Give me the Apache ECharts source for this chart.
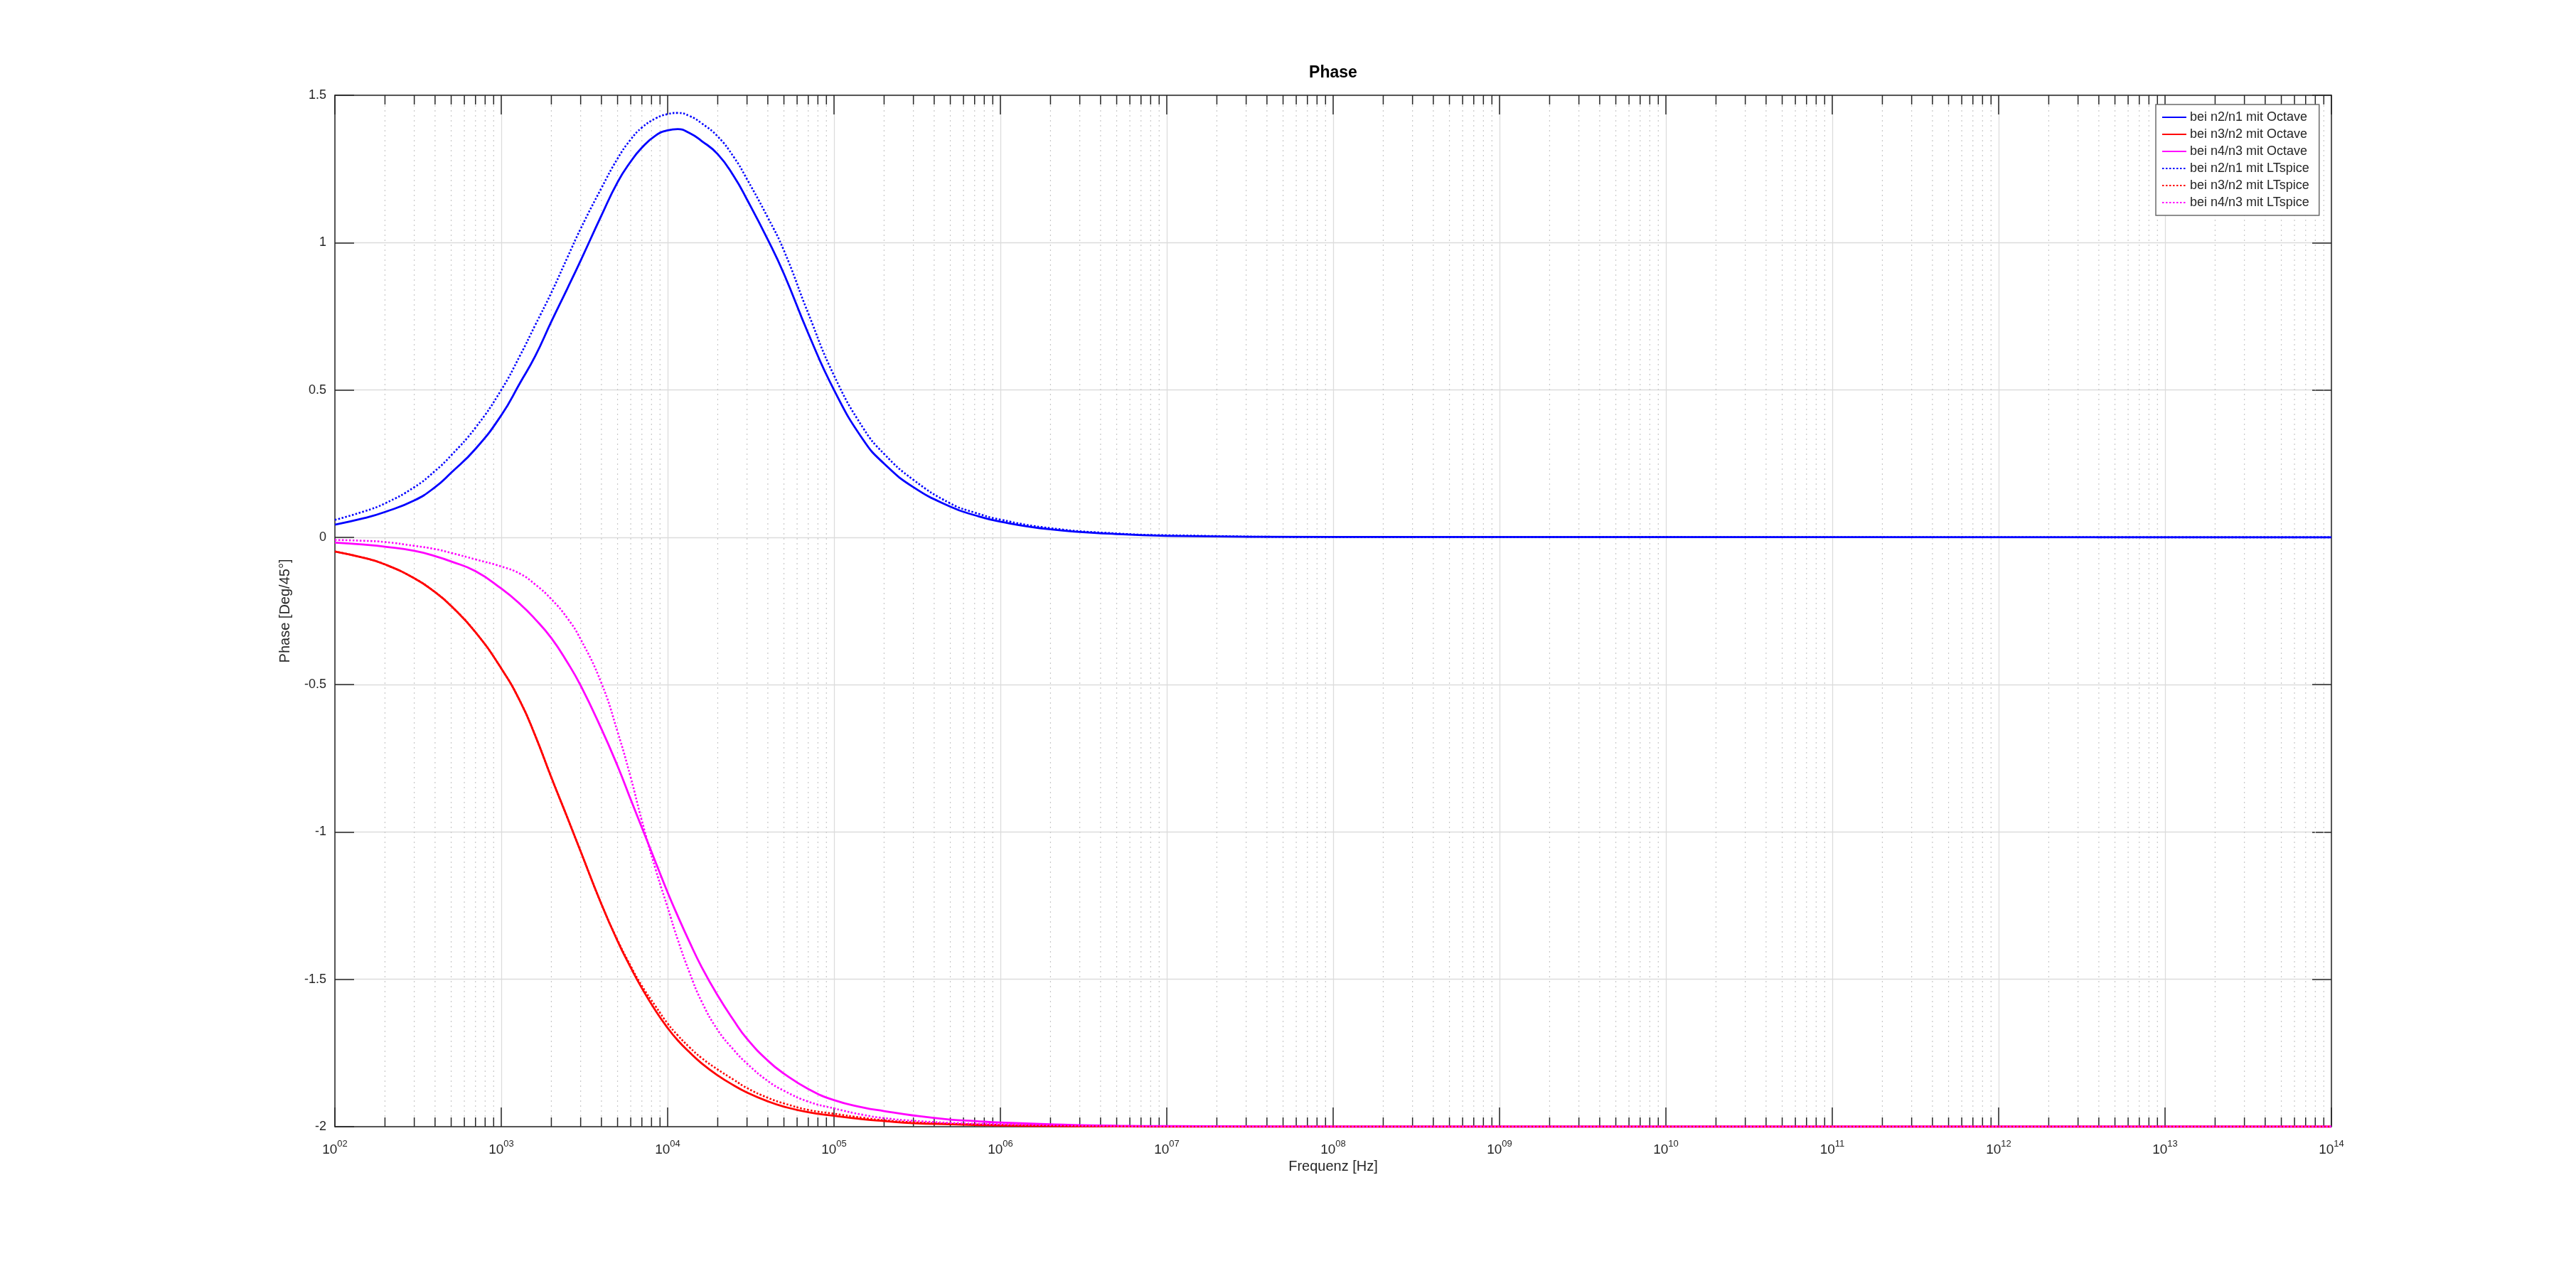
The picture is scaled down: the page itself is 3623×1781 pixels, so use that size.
<!DOCTYPE html>
<html>
<head>
<meta charset="utf-8">
<script src="https://cdn.jsdelivr.net/npm/echarts@6/dist/echarts.min.js"></script>
<style>
html,body{margin:0;padding:0;background:#fff;}
#c{width:3623px;height:1781px;}
</style>
</head>
<body>
<div id="c"></div>
<script>
// ---- data ----
const freq = [100,150,200,300,400,500,700,1000,1300,1600,2000,2500,3000,4000,5000,6000,7000,8500,10000,11500,13500,16000,20000,25000,30000,40000,50000,70000,1e5,1.5e5,2e5,3e5,5e5,7e5,1e6,2e6,5e6,1e7,1e8,1e14];

const n21Octave = [0.043,0.065,0.086,0.125,0.170,0.219,0.300,0.414,0.525,0.615,0.732,0.845,0.939,1.092,1.205,1.275,1.322,1.364,1.381,1.385,1.372,1.345,1.300,1.225,1.146,1.010,0.894,0.692,0.500,0.330,0.250,0.170,0.104,0.075,0.053,0.027,0.011,0.005,0.001,0];
const n32Octave = [-0.048,-0.070,-0.092,-0.139,-0.186,-0.233,-0.322,-0.445,-0.557,-0.673,-0.815,-0.952,-1.066,-1.245,-1.370,-1.460,-1.530,-1.608,-1.665,-1.707,-1.747,-1.785,-1.826,-1.860,-1.884,-1.914,-1.932,-1.951,-1.963,-1.975,-1.981,-1.988,-1.992,-1.994,-1.996,-1.998,-1.999,-2,-2,-2];
const n43Octave = [-0.018,-0.025,-0.032,-0.046,-0.064,-0.082,-0.115,-0.174,-0.227,-0.278,-0.342,-0.425,-0.503,-0.650,-0.776,-0.890,-0.985,-1.105,-1.205,-1.285,-1.372,-1.458,-1.555,-1.640,-1.702,-1.776,-1.820,-1.872,-1.910,-1.935,-1.947,-1.962,-1.976,-1.981,-1.986,-1.992,-1.997,-1.998,-2,-2];
const n21LTspice = [0.059,0.088,0.115,0.170,0.225,0.278,0.372,0.500,0.618,0.720,0.830,0.950,1.047,1.185,1.285,1.350,1.390,1.422,1.436,1.440,1.430,1.405,1.360,1.290,1.215,1.085,0.973,0.760,0.549,0.370,0.283,0.195,0.115,0.084,0.060,0.031,0.013,0.007,0.001,0];
const n32LTspice = [-0.048,-0.070,-0.092,-0.139,-0.186,-0.233,-0.322,-0.445,-0.557,-0.673,-0.815,-0.952,-1.066,-1.245,-1.367,-1.455,-1.522,-1.593,-1.650,-1.690,-1.730,-1.767,-1.806,-1.841,-1.869,-1.902,-1.921,-1.943,-1.956,-1.970,-1.978,-1.985,-1.990,-1.992,-1.994,-1.997,-1.999,-2,-2,-2];
const n43LTspice = [-0.009,-0.012,-0.016,-0.029,-0.040,-0.053,-0.075,-0.099,-0.124,-0.160,-0.210,-0.275,-0.346,-0.495,-0.660,-0.815,-0.962,-1.130,-1.256,-1.365,-1.475,-1.575,-1.672,-1.740,-1.786,-1.845,-1.878,-1.915,-1.938,-1.960,-1.971,-1.980,-1.987,-1.990,-1.992,-1.995,-1.998,-1.999,-2,-2];

const seriesNames = ['bei n2/n1 mit Octave','bei n3/n2 mit Octave','bei n4/n3 mit Octave','bei n2/n1 mit LTspice','bei n3/n2 mit LTspice','bei n4/n3 mit LTspice'];
const titleText = 'Phase';
const xName = 'Frequenz [Hz]';
const yName = 'Phase [Deg/45°]';
const xMin = 1e2, xMax = 1e14;
const yMin = -2, yMax = 1.5, yStep = 0.5;

// minor tick positions of the log axis (2..9 per decade)
const minorTicks = [];
for (let e = 2; e < 14; e++) for (let m = 2; m <= 9; m++) minorTicks.push([m * Math.pow(10, e), yMin]);

// ---- styling ----
const FONT = 'Liberation Sans, Arial, Helvetica, sans-serif';
const AX = '#262626';
const GRID = { left: 471, right: 344, top: 134, bottom: 196 };

function pairs(ys) { return freq.map((f, i) => [f, ys[i]]); }

function lineSeries(name, ys, color, dotted) {
  return {
    name: name, type: 'line', data: pairs(ys),
    xAxisIndex: 0, yAxisIndex: 0,
    showSymbol: false, symbol: 'none',
    smooth: 0.5,
    lineStyle: dotted ? { color: color, width: 2.6, type: [2.5, 2.5] } : { color: color, width: 2.8 },
    itemStyle: { color: color },
    z: 3, silent: true, animation: false
  };
}

const chart = echarts.init(document.getElementById('c'), null, { renderer: 'canvas' });

const baseX = {
  type: 'log', logBase: 10, min: xMin, max: xMax, interval: 1,
  axisLine: { show: true, onZero: false, lineStyle: { color: AX, width: 1.5 } },
  axisTick: { show: true, inside: true, length: 27, lineStyle: { color: AX, width: 1.5 } },
  minorTick: { show: false }, minorSplitLine: { show: false }
};
const baseY = {
  type: 'value', min: yMin, max: yMax, interval: yStep,
  axisLine: { show: true, onZero: false, lineStyle: { color: AX, width: 1.5 } },
  axisTick: { show: true, inside: true, length: 27, lineStyle: { color: AX, width: 1.5 } }
};

chart.setOption({
  animation: false,
  backgroundColor: '#ffffff',
  grid: GRID,
  graphic: [{
    type: 'text', x: 1875, y: 103,
    style: { text: titleText, font: 'bold 23px ' + FONT, fill: '#000', textAlign: 'center', textVerticalAlign: 'middle' }
  }],
  legend: {
    data: seriesNames,
    orient: 'vertical',
    left: 3032, top: 147,
    padding: [9, 14, 9, 8],
    itemGap: 6,
    itemWidth: 34, itemHeight: 14,
    itemTextGap: 9,
    itemStyle: { color: 'rgba(0,0,0,0)', borderWidth: 0, opacity: 0 },
    backgroundColor: '#fff',
    borderColor: '#6b6b6b', borderWidth: 1.5,
    textStyle: { fontFamily: FONT, fontSize: 18, color: AX }
  },
  xAxis: [
    Object.assign({}, baseX, {
      position: 'bottom',
      name: xName, nameLocation: 'middle', nameGap: 46,
      nameTextStyle: { fontFamily: FONT, fontSize: 20, color: AX },
      axisLabel: {
        show: true, margin: 18,
        formatter: function (v) {
          const e = Math.round(Math.log10(v));
          return '{b|10}{s|' + String(e).padStart(2, '0') + '}';
        },
        rich: {
          b: { fontFamily: FONT, fontSize: 19, color: AX, lineHeight: 24, verticalAlign: 'bottom' },
          s: { fontFamily: FONT, fontSize: 13, color: AX, lineHeight: 12, verticalAlign: 'top' }
        }
      },
      splitLine: { show: true, lineStyle: { color: '#dcdcdc', width: 1.3 } }
    }),
    Object.assign({}, baseX, {
      position: 'top', axisLabel: { show: false }, splitLine: { show: false }
    })
  ],
  yAxis: [
    Object.assign({}, baseY, {
      position: 'left',
      name: yName, nameLocation: 'middle', nameGap: 60, nameRotate: 90,
      nameTextStyle: { fontFamily: FONT, fontSize: 20, color: AX },
      axisLabel: { show: true, margin: 12, fontFamily: FONT, fontSize: 18, color: AX },
      splitLine: { show: true, lineStyle: { color: '#dcdcdc', width: 1.3 } }
    }),
    Object.assign({}, baseY, {
      position: 'right', axisLabel: { show: false }, splitLine: { show: false }
    })
  ],
  series: [
    {
      type: 'custom', name: 'minor', xAxisIndex: 0, yAxisIndex: 0, z: 1, silent: true,
      data: minorTicks, encode: { x: 0, y: 1 },
      renderItem: function (params, api) {
        const pb = api.coord([api.value(0), yMin]);
        const pt = api.coord([api.value(0), yMax]);
        const x = pb[0];
        return {
          type: 'group', children: [
            { type: 'line', shape: { x1: x, y1: pt[1], x2: x, y2: pb[1] }, style: { stroke: '#c8c8c8', lineWidth: 1.2, lineDash: [2, 5] } },
            { type: 'line', shape: { x1: x, y1: pb[1], x2: x, y2: pb[1] - 13 }, style: { stroke: AX, lineWidth: 1.5 } },
            { type: 'line', shape: { x1: x, y1: pt[1], x2: x, y2: pt[1] + 13 }, style: { stroke: AX, lineWidth: 1.5 } }
          ]
        };
      }
    },
    lineSeries(seriesNames[0], n21Octave, '#0000ff', false),
    lineSeries(seriesNames[1], n32Octave, '#ff0000', false),
    lineSeries(seriesNames[2], n43Octave, '#ff00ff', false),
    lineSeries(seriesNames[3], n21LTspice, '#0000ff', true),
    lineSeries(seriesNames[4], n32LTspice, '#ff0000', true),
    lineSeries(seriesNames[5], n43LTspice, '#ff00ff', true)
  ]
});
</script>
</body>
</html>
